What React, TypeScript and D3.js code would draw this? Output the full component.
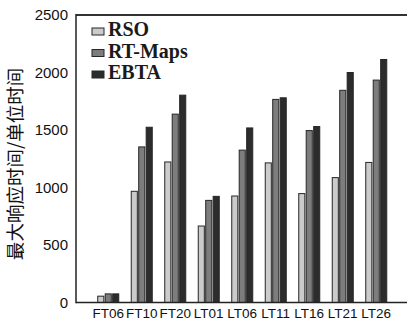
import React from 'react'
import * as d3 from 'd3'

const categories = ['FT06', 'FT10', 'FT20', 'LT01', 'LT06', 'LT11', 'LT16', 'LT21', 'LT26']
const seriesNames = ['RSO', 'RT-Maps', 'EBTA']
const rso = [55, 967, 1222, 665, 926, 1214, 947, 1086, 1218]
const rtMaps = [75, 1353, 1638, 888, 1325, 1766, 1495, 1845, 1934]
const ebta = [75, 1524, 1803, 923, 1518, 1780, 1530, 2000, 2113]
const yTicks = [0, 500, 1000, 1500, 2000, 2500]

const fills = ['#cbcbcb', '#7d7d7d', '#2c2c2c']
const W = 407
const H = 322

export default function App() {
  const left = 76
  const top = 15
  const bottom = 302.5
  const series = [rso, rtMaps, ebta]

  const y = d3.scaleLinear().domain([0, 2500]).range([bottom, top])
  const x = d3.scaleBand().domain(categories).range([91.5, 393]).padding(0)
  const inner = d3.scaleBand().domain(seriesNames).range([0, 22]).paddingInner(0.05)
  const groupOffset = (x.bandwidth() - 22) / 2

  return (
    <div style={{ position: 'absolute', left: 0, top: 0 }}>
      <svg width={W} height={H} style={{ display: 'block', background: '#fff' }}>
        {/* bars */}
        {categories.map((c, i) => (
          <g key={c} transform={`translate(${(x(c) ?? 0) + groupOffset},0)`}>
            {series.map((s, k) => (
              <rect
                key={k}
                x={(inner(seriesNames[k]) ?? 0) + 0.5}
                y={y(s[i])}
                width={inner.bandwidth() - 1}
                height={bottom - y(s[i])}
                fill={fills[k]}
                stroke="#262626"
                strokeWidth={1}
              />
            ))}
          </g>
        ))}

        {/* frame */}
        <line x1={left} x2={W + 2} y1={top} y2={top} stroke="#333" strokeWidth={2} />
        <line x1={left} x2={W + 2} y1={bottom} y2={bottom} stroke="#222" strokeWidth={1.5} />
        <line x1={left} x2={left} y1={top - 1} y2={bottom + 0.75} stroke="#222" strokeWidth={1.5} />

        {/* y tick labels */}
        {yTicks.map(t => (
          <text
            key={t}
            x={left - 8}
            y={y(t)}
            dy="0.36em"
            textAnchor="end"
            fontFamily="'Liberation Sans', Arial, sans-serif"
            fontSize={15}
            fill="#111"
          >
            {t}
          </text>
        ))}

        {/* x labels */}
        {categories.map(c => (
          <text
            key={c}
            x={(x(c) ?? 0) + x.bandwidth() / 2}
            y={318}
            textAnchor="middle"
            fontFamily="'Liberation Sans', Arial, sans-serif"
            fontSize={13.5}
            fill="#111"
          >
            {c}
          </text>
        ))}

        {/* y title */}
        <text
          transform="translate(14,164) rotate(-90)"
          textAnchor="middle"
          dominantBaseline="central"
          fontFamily="'Noto Sans CJK SC', sans-serif"
          fontSize={18.5}
          fill="#111"
        >
          最大响应时间/单位时间
        </text>

        {/* legend */}
        {seriesNames.map((n, k) => (
          <g key={n} transform={`translate(92,${28 + k * 21.5})`}>
            <rect x={0} y={0} width={12} height={7} fill={fills[k]} stroke="#262626" strokeWidth={1} />
            <text
              x={16}
              y={8}
              fontFamily="'Liberation Serif', 'Times New Roman', serif"
              fontSize={20}
              fontWeight="bold"
              fill="#1a1a1a"
            >
              {n}
            </text>
          </g>
        ))}
      </svg>
    </div>
  )
}
